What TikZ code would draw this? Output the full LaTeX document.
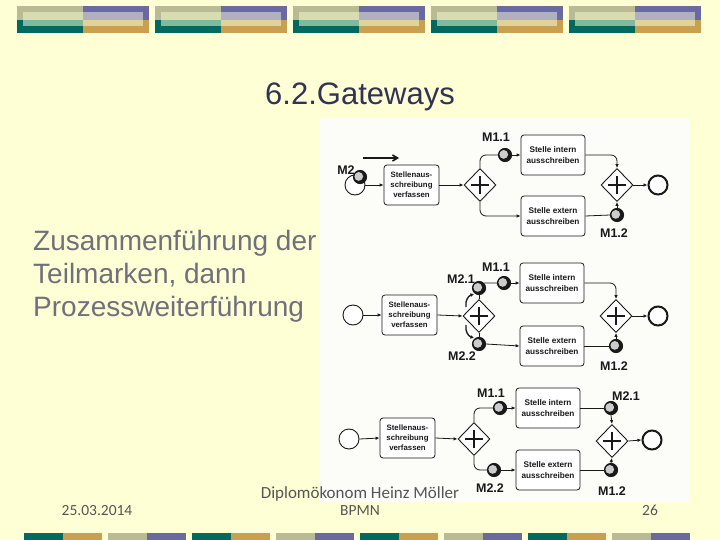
\documentclass[tikz,border=0pt]{standalone}
\usepackage{fontspec}
\setmainfont{Liberation Sans}
\newfontfamily\footfont{Carlito}
\usetikzlibrary{shapes.geometric,arrows.meta}
\definecolor{slidebg}{RGB}{255,255,214}
\definecolor{imgbg}{RGB}{252,252,249}
\definecolor{olivec}{RGB}{186,186,148}
\definecolor{tealc}{RGB}{0,105,96}
\definecolor{purplec}{RGB}{106,106,160}
\definecolor{goldc}{RGB}{200,160,80}
\definecolor{lbeige}{RGB}{216,220,176}
\definecolor{lteal}{RGB}{128,184,160}
\definecolor{llav}{RGB}{176,176,192}
\definecolor{ltan}{RGB}{226,210,152}
\definecolor{titlec}{RGB}{50,50,85}
\definecolor{bodyc}{RGB}{112,112,124}
\definecolor{footc}{RGB}{85,85,85}
\definecolor{ink}{RGB}{25,25,25}
\begin{document}
\begin{tikzpicture}[x=1pt,y=-1pt,
  task/.style={draw=ink, line width=0.8pt, rounded corners=3pt, fill=white, align=center,
    font=\fontsize{7.8}{10}\selectfont\bfseries, text=ink, minimum width=55pt, minimum height=40pt, inner sep=1pt},
  taskr/.style={task, minimum width=64pt, font=\fontsize{8.2}{10.5}\selectfont\bfseries},
  ev/.style={circle, draw=ink, line width=0.9pt, minimum size=20pt, inner sep=0pt, fill=white},
  endev/.style={ev, line width=2pt, minimum size=19pt},
  tok/.style={circle, draw=ink, line width=1.1pt, fill=ink, minimum size=13pt, inner sep=0pt,
    path picture={\fill[gray!40] ([xshift=-1.3pt,yshift=0.6pt]path picture bounding box.center) circle (4.4pt);}},
  gw/.style={diamond, draw=ink, line width=0.9pt, minimum width=32pt, minimum height=33pt, inner sep=0pt, fill=white,
    path picture={\draw[ink, line width=2.8pt] ([xshift=-9pt]path picture bounding box.center) -- ([xshift=9pt]path picture bounding box.center);
                  \draw[ink, line width=2.8pt] ([yshift=-9pt]path picture bounding box.center) -- ([yshift=9pt]path picture bounding box.center);}},
  lbl/.style={anchor=base, font=\fontsize{12.5}{13}\selectfont\bfseries, text=ink, inner sep=0pt},
  conn/.style={draw=ink, line width=0.8pt, rounded corners=6pt},
  arr/.style={conn, -{Latex[length=4pt,width=3.5pt]}},
  curvarr/.style={draw=ink, line width=1.3pt, -{Latex[length=3.5pt,width=3.8pt]}},
  foot/.style={anchor=base, font=\footfont\fontsize{15.5}{16}\selectfont, text=footc, inner sep=0pt},
  body/.style={anchor=base west, font=\fontsize{28}{28}\selectfont, text=bodyc, inner sep=0pt}
]
% background
\path[use as bounding box, fill=slidebg] (0,0) rectangle (720,540);
% top decoration
\foreach \i in {0,...,4} {
  \pgfmathsetmacro{\xo}{17+138*\i}
  \fill[olivec] (\xo,6) rectangle ++(66,14);
  \fill[tealc] (\xo,20) rectangle ++(66,13);
  \fill[purplec] (\xo+66,6) rectangle ++(66,14);
  \fill[goldc] (\xo+66,20) rectangle ++(66,13);
  \fill[lbeige] (\xo+6,12) rectangle ++(60,8);
  \fill[lteal] (\xo+6,20) rectangle ++(60,6);
  \fill[llav] (\xo+66,12) rectangle ++(60,8);
  \fill[ltan] (\xo+66,20) rectangle ++(60,6);
}
% bottom decoration
\foreach \j in {0,...,7} {
  \pgfmathsetmacro{\xo}{24+84*\j}
  \pgfmathtruncatemacro{\odd}{mod(\j,2)}
  \ifnum\odd=0
    \fill[tealc] (\xo,533) rectangle ++(39,7);
    \fill[goldc] (\xo+39,533) rectangle ++(39,7);
  \else
    \fill[olivec] (\xo,533) rectangle ++(39,7);
    \fill[purplec] (\xo+39,533) rectangle ++(39,7);
  \fi
}
% title and body
\node[anchor=base, font=\fontsize{31}{31}\selectfont, text=titlec, inner sep=0pt] (title) at (360,105) {6.2.Gateways};
\node[body] (b1) at (33,250) {Zusammenführung der};
\node[body] (b2) at (33,283) {Teilmarken, dann};
\node[body] (b3) at (33,316) {Prozessweiterführung};
% image area
\fill[imgbg] (320,118) rectangle (690,502);

% ---------- Row 1 ----------
\node[ev] (s1) at (355,185) {};
\node[tok] (m2) at (360,177) {};
\node[lbl] (lm2) at (346,175) {M2};
\coordinate (a1) at (363,158);
\coordinate (a2) at (399,158);
\draw[ink, line width=1.6pt, -{Straight Barb[length=5pt,width=6pt]}] (a1) -- (a2);
\node[task] (t1) at (411.5,185) {Stellenaus-\\schreibung\\verfassen};
\node[gw] (g1) at (480,185) {};
\node[tok] (k11) at (505,155) {};
\node[lbl] (l11) at (496,142) {M1.1};
\node[taskr] (u1) at (553,155) {Stelle intern\\ausschreiben};
\node[taskr] (d1) at (553,216) {Stelle extern\\ausschreiben};
\node[gw] (h1) at (617,185) {};
\node[tok] (k12) at (617,215) {};
\node[lbl] (l12) at (614,237) {M1.2};
\node[endev] (e1) at (658,185) {};
\draw[arr] (s1.east) -- (t1.west);
\draw[arr] (t1.east) -- (g1.west);
\draw[conn] (g1.north) |- (k11.west);
\draw[arr] (k11.east) -- (u1.west);
\draw[arr] (g1.south) |- (d1.west);
\draw[arr] (u1.east) -| (h1.north);
\draw[conn] (d1.east) -- (k12.west);
\draw[arr] (k12.north) -- (h1.south);
\draw[arr] (h1.east) -- (e1.west);

% ---------- Row 2 ----------
\node[ev] (s2) at (353,315) {};
\node[task] (t2) at (409.5,315) {Stellenaus-\\schreibung\\verfassen};
\node[gw] (g2) at (479,316) {};
\node[tok] (k21) at (479,288) {};
\node[lbl] (l21) at (461,283) {M2.1};
\node[tok] (k22) at (504,283) {};
\node[lbl] (l22) at (496,271) {M1.1};
\node[taskr] (u2) at (552,283) {Stelle intern\\ausschreiben};
\node[tok] (k23) at (479,344) {};
\node[lbl] (l23) at (462,360) {M2.2};
\node[taskr] (d2) at (552,346) {Stelle extern\\ausschreiben};
\node[gw] (h2) at (616,316) {};
\node[tok] (k24) at (616,346) {};
\node[lbl] (l24) at (614,370) {M1.2};
\node[endev] (e2) at (658,316) {};
\coordinate (c1) at (466,307);
\coordinate (c2) at (474,294);
\coordinate (c3) at (466,325);
\coordinate (c4) at (474,338);
\draw[arr] (s2.east) -- (t2.west);
\draw[arr] (t2.east) -- (g2.west);
\draw[conn] (g2.north) -- (k21.south);
\draw[conn] (k21.north east) -- (k22.west);
\draw[arr] (k22.east) -- (u2.west);
\draw[conn] (g2.south) -- (k23.north);
\draw[arr] (k23.east) -- (d2.west);
\draw[arr] (u2.east) -| (h2.north);
\draw[conn] (d2.east) -- (k24.west);
\draw[arr] (k24.north) -- (h2.south);
\draw[arr] (h2.east) -- (e2.west);
\draw[curvarr] (c1) .. controls (465,301) and (468,296) .. (c2);
\draw[curvarr] (c3) .. controls (465,331) and (468,336) .. (c4);

% ---------- Row 3 ----------
\node[ev] (s3) at (349,439) {};
\node[task] (t3) at (407.5,438) {Stellenaus-\\schreibung\\verfassen};
\node[gw] (g3) at (474,439) {};
\node[tok] (k31) at (500,408) {};
\node[lbl] (l31) at (491,397) {M1.1};
\node[taskr] (u3) at (548,408) {Stelle intern\\ausschreiben};
\node[tok] (k32) at (494,470) {};
\node[lbl] (l32) at (490,492) {M2.2};
\node[taskr] (d3) at (548,470) {Stelle extern\\ausschreiben};
\node[gw] (h3) at (612,441) {};
\node[tok] (k33) at (611,408) {};
\node[lbl] (l33) at (626,400) {M2.1};
\node[tok] (k34) at (611,470) {};
\node[lbl] (l34) at (612,495) {M1.2};
\node[endev] (e3) at (652,440) {};
\draw[arr] (s3.east) -- (t3.west);
\draw[arr] (t3.east) -- (g3.west);
\draw[conn] (g3.north) |- (k31.west);
\draw[arr] (k31.east) -- (u3.west);
\draw[conn] (g3.south) |- (k32.west);
\draw[arr] (k32.east) -- (d3.west);
\draw[conn] (u3.east) -- (k33.west);
\draw[arr] (k33.south) -- (h3.north);
\draw[conn] (d3.east) -- (k34.west);
\draw[arr] (k34.north) -- (h3.south);
\draw[arr] (h3.east) -- (e3.west);

% footer
\node[foot] (date) at (97,515) {25.03.2014};
\node[foot, font=\footfont\fontsize{17}{17}\selectfont] (auth) at (360,498) {Diplomökonom Heinz Möller};
\node[foot] (bpmn) at (360,515) {BPMN};
\node[foot] (page) at (650,515) {26};
\end{tikzpicture}
\end{document}
